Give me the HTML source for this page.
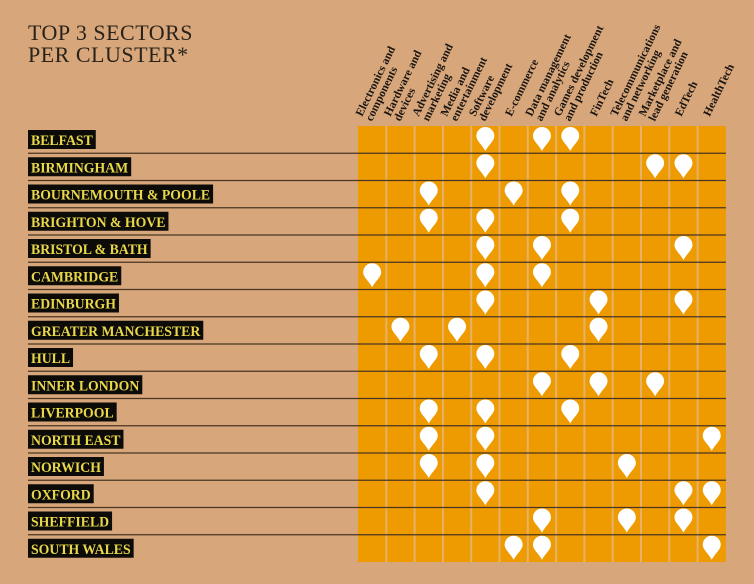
<!DOCTYPE html>
<html><head><meta charset="utf-8"><style>
body{margin:0;width:754px;height:584px;background:#d7a77b;overflow:hidden;font-family:"Liberation Serif",serif;}
.title{position:absolute;left:28px;top:22px;font-size:22px;line-height:22px;color:#2a2218;letter-spacing:0.5px}
</style></head><body>
<div class="title">TOP 3 SECTORS<br>PER CLUSTER*</div>
<svg id="chart" width="754" height="584" style="position:absolute;left:0;top:0"></svg>
<script>
const sectors=["Electronics and|components","Hardware and|devices","Advertising and|marketing","Media and|entertainment","Software|development","E-commerce","Data management|and analytics","Games development|and production","FinTech","Telecommunications|and networking","Marketplace and|lead generation","EdTech","HealthTech"];
const clusters=["BELFAST","BIRMINGHAM","BOURNEMOUTH & POOLE","BRIGHTON & HOVE","BRISTOL & BATH","CAMBRIDGE","EDINBURGH","GREATER MANCHESTER","HULL","INNER LONDON","LIVERPOOL","NORTH EAST","NORWICH","OXFORD","SHEFFIELD","SOUTH WALES"];
const topSectors=[[4,6,7],[4,10,11],[2,5,7],[2,4,7],[4,6,11],[0,4,6],[4,8,11],[1,3,8],[2,4,7],[6,8,10],[2,4,7],[2,4,12],[2,4,9],[4,11,12],[6,9,11],[5,6,12]];
const NS="http://www.w3.org/2000/svg";
const svg=document.getElementById('chart');
const x0=358,cw=28.3,y0=126,rh=27.25;
const colX=i=>x0+i*cw, rowY=j=>y0+j*rh;
function mk(t,a,p){const e=document.createElementNS(NS,t);for(const k in a)e.setAttribute(k,a[k]);(p||svg).appendChild(e);return e;}
const bg=mk('rect',{x:x0,y:y0,width:cw*13,height:rh*16,fill:'#ee9b02'});


for(let i=1;i<13;i++){
  const l=mk('line',{x1:colX(i),y1:y0,x2:colX(i),y2:y0+rh*16,stroke:'#e6b26a','stroke-width':2});
  
  
}
sectors.forEach((s,i)=>{
  const two=s.includes('|');
  const g=mk('text',{transform:two?`translate(${colX(i)+4},117) rotate(-64)`:`translate(${colX(i)+12},117) rotate(-64)`,'font-size':'11.5','font-weight':'bold','font-family':'Liberation Serif, serif',fill:'#1a1410'});
  
  
  s.split('|').forEach((p,k)=>{const t=mk('tspan',{x:0,dy:k?11:0},g);t.textContent=p;});
});
clusters.forEach((c,j)=>{
  const y=rowY(j);
  if(j>0){const l=mk('line',{x1:28,y1:y,x2:x0+cw*13,y2:y,stroke:'#4a3522','stroke-width':1.3});
    
    }
  const t=mk('text',{x:31,y:y+19,'font-size':'14.5','font-weight':'bold','font-family':'Liberation Serif, serif',fill:'#e8d84a'});
  t.textContent=c;
  const w=t.getComputedTextLength()*0.95;
  t.setAttribute('textLength',w);
  t.setAttribute('lengthAdjust','spacingAndGlyphs');
  const r=mk('rect',{x:28,y:y+4,width:w+6,height:19,fill:'#0d0b08'});
  svg.insertBefore(r,t);
  
  
  
  
  topSectors[j].forEach(i=>{
    const cx=colX(i)+cw/2, cy=y+12;
    const p=mk('path',{d:`M${cx},${cy+13} C${cx-3},${cy+7} ${cx-9},${cy+3} ${cx-9},${cy-2} A9,9 0 1 1 ${cx+9},${cy-2} C${cx+9},${cy+3} ${cx+3},${cy+7} ${cx},${cy+13}Z`,fill:'#fff'});
    
    
  });
});
</script>
</body></html>
